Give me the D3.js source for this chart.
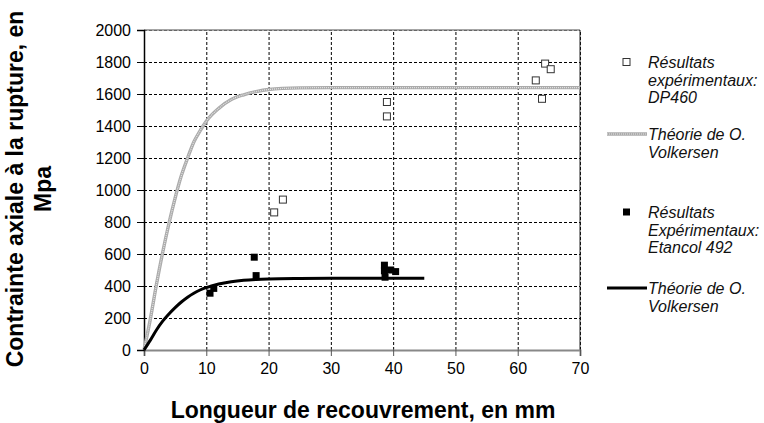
<!DOCTYPE html>
<html>
<head>
<meta charset="utf-8">
<script src="https://cdn.jsdelivr.net/npm/d3@7"></script>
<style>
  body { margin: 0; background: #fff; }
  svg { font-family: Arial, "Liberation Sans", sans-serif; }
</style>
</head>
<body>
<div id="chart"></div>
<script>
// experimental points, DP460 (open squares)
var dp460 = [[20.9, 860], [22.3, 940], [39, 1550], [39, 1460],
             [64.4, 1790], [65.3, 1755], [62.9, 1685], [63.9, 1570]];
// experimental points, Etancol 492 (filled squares)
var etancol = [[10.6, 355], [11.2, 385], [17.7, 580], [18, 465],
               [38.6, 530], [38.6, 495], [38.7, 455], [39.6, 500], [40.4, 490]];
// Volkersen theory, DP460
var theoDP = [[0, 0], [1, 190], [2, 410], [3, 610], [4, 790], [5, 950], [6, 1090],
              [7, 1200], [8, 1300], [9, 1370], [10, 1430], [12, 1510], [14, 1565],
              [16, 1595], [18, 1615], [20, 1628], [25, 1638], [30, 1640], [40, 1640],
              [50, 1640], [60, 1640], [70, 1640]];
// Volkersen theory, Etancol 492
var theoET = [[0, 0], [1, 60], [2, 125], [3, 180], [4, 225], [5, 265], [6, 300],
              [7, 330], [8, 355], [9, 375], [10, 390], [12, 413], [14, 427], [16, 436],
              [18, 441], [20, 444], [25, 447], [30, 448], [35, 448], [40, 448], [45, 448]];
var xTicks = [0, 10, 20, 30, 40, 50, 60, 70];
var yTicks = [0, 200, 400, 600, 800, 1000, 1200, 1400, 1600, 1800, 2000];
var legendItems = [
    { type: "open", lines: ["Résultats", "expérimentaux:", "DP460"] },
    { type: "theoDP", lines: ["Théorie de O.", "Volkersen"] },
    { type: "filled", lines: ["Résultats", "Expérimentaux:", "Etancol 492"] },
    { type: "theoET", lines: ["Théorie de O.", "Volkersen"] }
];

var margin = { top: 30, right: 184, bottom: 73, left: 144 },
    width = 764 - margin.left - margin.right,
    height = 423 - margin.top - margin.bottom;

var svg = d3.select("#chart")
    .append("svg")
    .attr("width", 764)
    .attr("height", 423);

var chart = svg.append("g")
    .attr("transform", "translate(" + margin.left + "," + margin.top + ")");

var x = d3.scaleLinear().domain([0, 70]).range([0, width]);
var y = d3.scaleLinear().domain([0, 2000]).range([height, 0]);

// dashed grid
chart.append("g")
    .attr("class", "grid")
    .call(d3.axisLeft(y).tickValues(yTicks).tickSize(-width).tickFormat(""))
    .call(function (g) { g.select(".domain").remove(); })
    .selectAll("line")
    .attr("stroke", "#000")
    .attr("stroke-dasharray", "3,2");

chart.append("g")
    .attr("class", "grid")
    .attr("transform", "translate(0," + height + ")")
    .call(d3.axisBottom(x).tickValues(xTicks).tickSize(-height).tickFormat(""))
    .call(function (g) { g.select(".domain").remove(); })
    .selectAll("line")
    .attr("stroke", "#000")
    .attr("stroke-dasharray", "3,2");

// frame
chart.append("line").attr("x1", 0).attr("x2", width).attr("y1", 0).attr("y2", 0)
    .attr("stroke", "#888").attr("stroke-width", 1.5);
chart.append("line").attr("x1", width).attr("x2", width).attr("y1", 0).attr("y2", height)
    .attr("stroke", "#222").attr("stroke-width", 1);

// axes
var xAxis = chart.append("g")
    .attr("transform", "translate(0," + height + ")")
    .call(d3.axisBottom(x).tickValues(xTicks).tickSize(6).tickPadding(7)
        .tickFormat(d3.format("d")));
xAxis.select(".domain").attr("stroke", "#888").attr("stroke-width", 2);
xAxis.selectAll("line").attr("stroke", "#555");
xAxis.selectAll("text").attr("font-size", 16).attr("fill", "#000")
    .attr("font-family", "Arial, 'Liberation Sans', sans-serif");

var yAxis = chart.append("g")
    .call(d3.axisLeft(y).tickValues(yTicks).tickSize(7).tickPadding(6)
        .tickFormat(d3.format("d")));
yAxis.select(".domain").attr("stroke", "#000").attr("stroke-width", 1.5);
yAxis.selectAll("line").attr("stroke", "#000");
yAxis.selectAll("text").attr("font-size", 16).attr("fill", "#000")
    .attr("font-family", "Arial, 'Liberation Sans', sans-serif");

var line = d3.line()
    .x(function (d) { return x(d[0]); })
    .y(function (d) { return y(d[1]); })
    .curve(d3.curveMonotoneX);

// theory DP460 : grey textured line
function drawTexture(sel) {
    sel.append("path").attr("fill", "none").attr("stroke", "#ababab")
        .attr("stroke-width", 3.4);
    sel.append("path").attr("fill", "none").attr("stroke", "#e4e4e4")
        .attr("stroke-width", 1.2).attr("stroke-dasharray", "1,1");
}
var dpGroup = chart.append("g");
drawTexture(dpGroup);
dpGroup.selectAll("path").datum(theoDP).attr("d", line);

// theory Etancol : black thick line
chart.append("path")
    .datum(theoET)
    .attr("fill", "none")
    .attr("stroke", "#000")
    .attr("stroke-width", 3)
    .attr("stroke-linejoin", "round")
    .attr("d", line);

var s = 7;
chart.selectAll(".open")
    .data(dp460)
    .enter().append("rect")
    .attr("class", "open")
    .attr("x", function (d) { return x(d[0]) - s / 2; })
    .attr("y", function (d) { return y(d[1]) - s / 2; })
    .attr("width", s).attr("height", s)
    .attr("fill", "#fff").attr("stroke", "#333").attr("stroke-width", 1);

chart.selectAll(".filled")
    .data(etancol)
    .enter().append("rect")
    .attr("class", "filled")
    .attr("x", function (d) { return x(d[0]) - s / 2; })
    .attr("y", function (d) { return y(d[1]) - s / 2; })
    .attr("width", s).attr("height", s)
    .attr("fill", "#000");

// axis titles
var yTitle = svg.append("text")
    .attr("transform", "translate(23,189) rotate(-90)")
    .attr("text-anchor", "middle")
    .attr("font-weight", "bold")
    .attr("font-size", 23)
    .attr("fill", "#000");
yTitle.append("tspan").attr("x", 0).attr("dy", 0).text("Contrainte axiale à la rupture, en");
yTitle.append("tspan").attr("x", 0).attr("dy", 28).text("Mpa");

svg.append("text")
    .attr("x", 363)
    .attr("y", 418)
    .attr("text-anchor", "middle")
    .attr("font-weight", "bold")
    .attr("font-size", 23)
    .attr("fill", "#000")
    .text("Longueur de recouvrement, en mm");

// legend
var legendY = [62, 134, 212, 288];
var legend = svg.append("g");
legendItems.forEach(function (item, i) {
    var g = legend.append("g").attr("transform", "translate(0," + legendY[i] + ")");
    if (item.type === "open") {
        g.append("rect").attr("x", 623).attr("y", -3.5).attr("width", 7).attr("height", 7)
            .attr("fill", "#fff").attr("stroke", "#333");
    } else if (item.type === "filled") {
        g.append("rect").attr("x", 623).attr("y", -3.5).attr("width", 7).attr("height", 7)
            .attr("fill", "#000");
    } else if (item.type === "theoDP") {
        drawTexture(g);
        g.selectAll("path").attr("d", "M607,0H647");
    } else {
        g.append("path").attr("d", "M607,0H647").attr("stroke", "#000")
            .attr("stroke-width", 3);
    }
    var t = g.append("text")
        .attr("x", 648)
        .attr("y", 6)
        .attr("font-style", "italic")
        .attr("font-size", 16)
        .attr("fill", "#111");
    item.lines.forEach(function (l, j) {
        t.append("tspan").attr("x", 648).attr("dy", j === 0 ? 0 : 17.5).text(l);
    });
});
</script>
</body>
</html>
